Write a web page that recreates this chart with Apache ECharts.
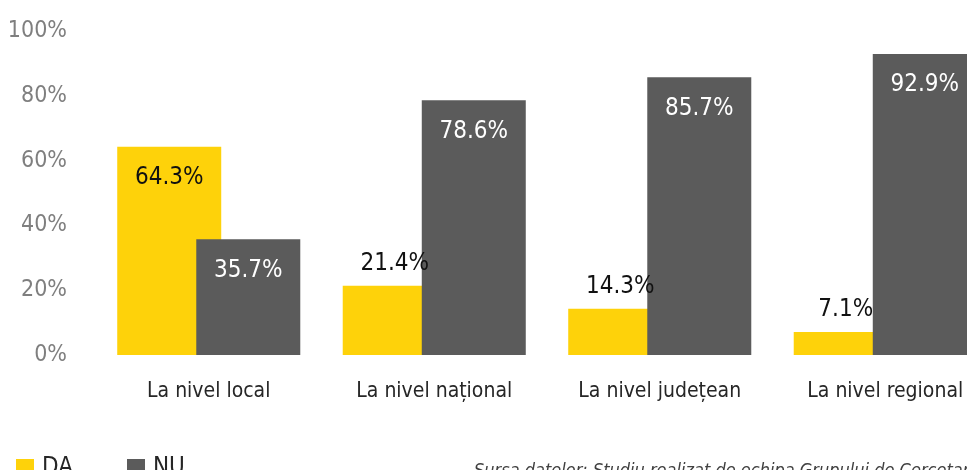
<!DOCTYPE html>
<html>
<head>
<meta charset="utf-8">
<script src="https://cdn.jsdelivr.net/npm/echarts@6/dist/echarts.min.js"></script>
<style>
  html, body { margin: 0; padding: 0; background: #fff; }
  #chart { width: 967px; height: 470px; }
</style>
</head>
<body>
<div id="chart"></div>
<script>
const categories = ['La nivel local', 'La nivel național', 'La nivel județean', 'La nivel regional'];
const seriesNames = ['DA', 'NU'];
const daValues = [64.3, 21.4, 14.3, 7.1];
const nuValues = [35.7, 78.6, 85.7, 92.9];
const yTicks = [0, 20, 40, 60, 80, 100];
const sourceNote = 'Sursa datelor: Studiu realizat de echipa Grupului de Cercetare';

// condensed face of DejaVu Sans, selected through the font-stretch keyword
const FONT = '"DejaVu Sans", sans-serif';
const STRETCH = 'condensed';
const YELLOW = '#FED20A';
const GREY = '#5B5B5B';

const chart = echarts.init(document.getElementById('chart'));

// short yellow bars carry their label above the bar, tall ones inside
const daData = daValues.map(v => ({
  value: v,
  label: v > 40
    ? { position: 'insideTop', distance: 19 }
    : { position: 'top', distance: 10 }
}));

const labelFont = { fontFamily: FONT, fontWeight: STRETCH, fontSize: 24 };

chart.setOption({
  animation: false,
  textStyle: { fontFamily: FONT },
  // the last group runs past the right edge of the canvas
  grid: { left: 96, width: 902, top: 31, bottom: 115, containLabel: false, outerBoundsMode: 'none' },
  legend: {
    data: seriesNames,
    left: 11,
    top: 451,
    icon: 'rect',
    itemWidth: 18,
    itemHeight: 18,
    itemGap: 54,
    textStyle: { fontFamily: FONT, fontWeight: STRETCH, fontSize: 24, color: '#262626', padding: [0, 0, 0, 3] }
  },
  xAxis: {
    type: 'category',
    data: categories,
    axisLine: { show: false },
    axisTick: { show: false },
    axisLabel: { color: '#262626', fontSize: 21, fontFamily: FONT, fontWeight: STRETCH, margin: 26, interval: 0 }
  },
  yAxis: {
    type: 'value',
    min: 0,
    max: 100,
    interval: 20,
    splitLine: { show: false },
    axisLine: { show: false },
    axisTick: { show: false },
    axisLabel: {
      color: '#7F7F7F',
      fontSize: 23,
      fontFamily: FONT,
      fontWeight: STRETCH,
      margin: 29,
      formatter: v => yTicks.includes(v) ? v + '%' : ''
    }
  },
  series: [
    {
      name: seriesNames[0],
      type: 'bar',
      data: daData,
      barWidth: 104,
      barGap: '-24%',
      itemStyle: { color: YELLOW },
      label: Object.assign({
        show: true,
        color: '#111',
        formatter: p => p.value.toFixed(1) + '%'
      }, labelFont)
    },
    {
      name: seriesNames[1],
      type: 'bar',
      data: nuValues,
      barWidth: 104,
      barGap: '-24%',
      itemStyle: { color: GREY },
      label: Object.assign({
        show: true,
        position: 'insideTop',
        distance: 19,
        color: '#fff',
        formatter: p => p.value.toFixed(1) + '%'
      }, labelFont)
    }
  ],
  graphic: [
    {
      type: 'text',
      left: 474,
      top: 462,
      style: {
        text: sourceNote,
        font: 'italic condensed 18px ' + FONT,
        fill: '#404040'
      }
    }
  ]
});
</script>
</body>
</html>
